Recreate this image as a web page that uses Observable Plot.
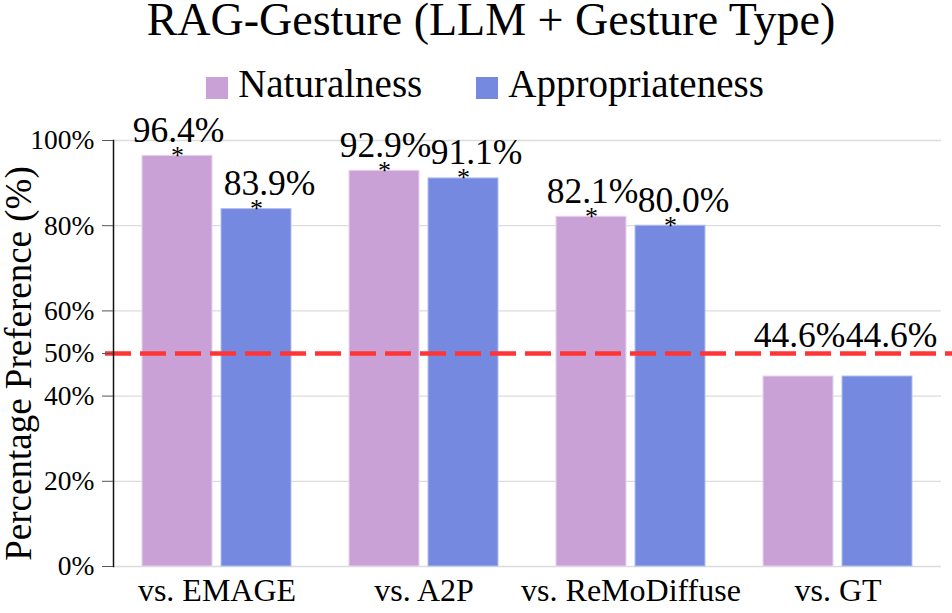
<!DOCTYPE html>
<html>
<head>
<meta charset="utf-8">
<script src="https://cdn.jsdelivr.net/npm/d3@7"></script>
<script src="https://cdn.jsdelivr.net/npm/@observablehq/plot@0.6"></script>
<style>
  html, body { margin: 0; padding: 0; background: #fff; }
  body { width: 952px; height: 613px; overflow: hidden; position: relative; font-family: "Liberation Serif", serif; color: #000; }
  #title { position: absolute; left: 30px; width: 922px; top: 2px; text-align: center; font-size: 46px; line-height: 36px; white-space: nowrap; }
  #legend { position: absolute; left: 0; width: 970px; top: 64px; display: flex; justify-content: center; align-items: flex-start; font-size: 39px; line-height: 39px; white-space: nowrap; }
  #legend .item { display: flex; align-items: flex-start; }
  #legend .sw { width: 22px; height: 22px; margin-top: 13px; margin-right: 10px; }
  #legend .item + .item { margin-left: 54px; }
  #chart { position: absolute; left: 0; top: 110px; }
</style>
</head>
<body>
<div id="title"></div>
<div id="legend"></div>
<div id="chart"></div>
<script>
const titleText = "RAG-Gesture (LLM + Gesture Type)";
const groups = ["vs. EMAGE", "vs. A2P", "vs. ReMoDiffuse", "vs. GT"];
const seriesNames = ["Naturalness", "Appropriateness"];
const seriesColors = ["#CAA1D7", "#7489DF"];
const naturalness = [96.4, 92.9, 82.1, 44.6];
const appropriateness = [83.9, 91.1, 80.0, 44.6];
const significant = [true, true, true, false];
const yTicks = [0, 20, 40, 50, 60, 80, 100];
const gridTicks = [20, 40, 60, 80, 100];
const chanceLevel = 50;
const yLabel = "Percentage Preference (%)";

document.getElementById("title").textContent = titleText;
const legend = document.getElementById("legend");
seriesNames.forEach((name, i) => {
  const item = document.createElement("div");
  item.className = "item";
  const sw = document.createElement("div");
  sw.className = "sw";
  sw.style.background = seriesColors[i];
  const t = document.createElement("span");
  t.textContent = name;
  item.appendChild(sw);
  item.appendChild(t);
  legend.appendChild(item);
});

const nat = groups.map((g, i) => ({group: g, value: naturalness[i], sig: significant[i]}));
const app = groups.map((g, i) => ({group: g, value: appropriateness[i], sig: significant[i]}));
const fmt = d => d.value.toFixed(1) + "%";

const bw = 149, barW = 70, half = (bw - barW) / 2;
const FF = "Liberation Serif";

const chart = Plot.plot({
  width: 952,
  height: 503,
  marginLeft: 113,
  marginRight: 11,
  marginTop: 30,
  marginBottom: 47,
  style: {fontFamily: FF, background: "white", overflow: "visible", color: "#000"},
  x: {domain: groups, paddingInner: 0.28, paddingOuter: 0.14, axis: null},
  y: {domain: [0, 100], axis: null},
  marks: [
    Plot.gridY(gridTicks, {stroke: "#dcdcdc", strokeOpacity: 1, strokeWidth: 1.3}),
    Plot.ruleY([0], {stroke: "#dcdcdc", strokeWidth: 1.3}),
    Plot.barY(nat, {x: "group", y: "value", fill: seriesColors[0], insetRight: bw - barW, stroke: "#e6d3ee", strokeWidth: 1}),
    Plot.barY(app, {x: "group", y: "value", fill: seriesColors[1], insetLeft: bw - barW, stroke: "#b3bff0", strokeWidth: 1}),
    Plot.ruleY([chanceLevel], {stroke: "#FF3535", strokeWidth: 4.5, strokeDasharray: "26,9", insetLeft: -8, insetRight: -12}),
    Plot.text(nat.filter(d => d.sig), {x: "group", y: "value", text: () => "*", dx: -half, fontSize: 26, fontFamily: FF, lineAnchor: "bottom", dy: 8}),
    Plot.text(app.filter(d => d.sig), {x: "group", y: "value", text: () => "*", dx: half, fontSize: 26, fontFamily: FF, lineAnchor: "bottom", dy: 8}),
    Plot.text(nat.filter(d => d.sig), {x: "group", y: "value", text: fmt, dx: -half + 1, dy: -14, fontSize: 35.5, fontFamily: FF, lineAnchor: "bottom"}),
    Plot.text(app.filter(d => d.sig), {x: "group", y: "value", text: fmt, dx: half + 13, dy: -14, fontSize: 35.5, fontFamily: FF, lineAnchor: "bottom"}),
    Plot.text(nat.filter(d => !d.sig), {x: "group", y: "value", text: fmt, dx: -half + 1, dy: -30, fontSize: 35.5, fontFamily: FF, lineAnchor: "bottom"}),
    Plot.text(app.filter(d => !d.sig), {x: "group", y: "value", text: fmt, dx: half + 14, dy: -30, fontSize: 35.5, fontFamily: FF, lineAnchor: "bottom"}),
    Plot.frame({anchor: "left", stroke: "#111", strokeWidth: 1.5}),
    Plot.axisY({ticks: yTicks, tickFormat: d => d + "%", tickSize: 11, tickPadding: 8, fontSize: 27.5, fontFamily: FF, label: null, stroke: "#555"}),
    Plot.axisX({tickSize: 0, tickPadding: 12, fontSize: 32, fontFamily: FF, label: null}),
    Plot.text([yLabel], {frameAnchor: "left", rotate: -90, dx: -94, dy: 10, fontSize: 37, fontFamily: FF, textAnchor: "middle", lineAnchor: "middle"})
  ]
});
document.getElementById("chart").appendChild(chart);
</script>
</body>
</html>
